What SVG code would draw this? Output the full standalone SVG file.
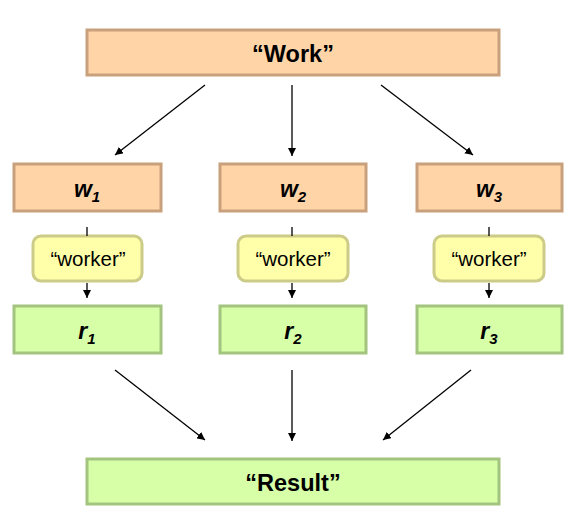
<svg xmlns="http://www.w3.org/2000/svg" width="570" height="528" viewBox="0 0 570 528">
<defs>
<marker id="ah" viewBox="0 0 10 10" refX="10" refY="5" markerWidth="8" markerHeight="8" markerUnits="userSpaceOnUse" orient="auto"><path d="M0,0 L10,5 L0,10 z" fill="#000"/></marker>
<style>
.o{fill:#FFD5A8;stroke:#C9A07C;stroke-width:3}
.y{fill:#FFFFAA;stroke:#CCCC88;stroke-width:3}
.g{fill:#D6FFA8;stroke:#A3C47E;stroke-width:3}
.big{font-family:"Liberation Sans",Arial,sans-serif;font-weight:bold;font-size:23.5px;text-anchor:middle}
.lbl{font-family:"Liberation Sans",Arial,sans-serif;font-weight:bold;font-style:italic;font-size:23px;text-anchor:middle}
.wk{font-family:"Liberation Sans",Arial,sans-serif;font-size:20.5px;text-anchor:middle}
.c{stroke:#000;stroke-width:1.3;fill:none}
</style>
</defs>
<rect width="570" height="528" fill="#fff"/>
<g id="work"><rect class="o" x="87" y="30" width="412" height="45"/><text class="big" x="293" y="62">“Work”</text></g>
<g id="w1"><rect class="o" x="14" y="164" width="147" height="47"/><text class="lbl" x="87" y="197">w<tspan font-size="15" dy="5">1</tspan></text></g>
<g id="w2"><rect class="o" x="220" y="164" width="146" height="47"/><text class="lbl" x="293" y="197">w<tspan font-size="15" dy="5">2</tspan></text></g>
<g id="w3"><rect class="o" x="417" y="164" width="145" height="47"/><text class="lbl" x="489" y="197">w<tspan font-size="15" dy="5">3</tspan></text></g>
<g id="worker1"><rect class="y" x="33" y="236" width="109" height="45" rx="8"/><text class="wk" x="88" y="266">“worker”</text></g>
<g id="worker2"><rect class="y" x="238" y="236" width="110" height="45" rx="8"/><text class="wk" x="293" y="266">“worker”</text></g>
<g id="worker3"><rect class="y" x="434" y="236" width="110" height="45" rx="8"/><text class="wk" x="489" y="266">“worker”</text></g>
<g id="r1"><rect class="g" x="14" y="306" width="147" height="47"/><text class="lbl" x="87" y="339">r<tspan font-size="15" dy="5">1</tspan></text></g>
<g id="r2"><rect class="g" x="220" y="306" width="146" height="47"/><text class="lbl" x="293" y="339">r<tspan font-size="15" dy="5">2</tspan></text></g>
<g id="r3"><rect class="g" x="417" y="306" width="145" height="47"/><text class="lbl" x="489" y="339">r<tspan font-size="15" dy="5">3</tspan></text></g>
<g id="result"><rect class="g" x="87" y="459" width="412" height="45"/><text class="big" x="293" y="491">“Result”</text></g>
<g id="connectors">
<line class="c" x1="205" y1="85" x2="115" y2="155" marker-end="url(#ah)"/>
<line class="c" x1="292" y1="85" x2="292" y2="156" marker-end="url(#ah)"/>
<line class="c" x1="381" y1="85" x2="473" y2="155" marker-end="url(#ah)"/>
<line class="c" x1="87" y1="227" x2="87" y2="236"/>
<line class="c" x1="292" y1="227" x2="292" y2="236"/>
<line class="c" x1="489" y1="227" x2="489" y2="236"/>
<line class="c" x1="87" y1="283" x2="87" y2="298" marker-end="url(#ah)"/>
<line class="c" x1="292" y1="283" x2="292" y2="298" marker-end="url(#ah)"/>
<line class="c" x1="489" y1="283" x2="489" y2="298" marker-end="url(#ah)"/>
<line class="c" x1="115" y1="370" x2="205" y2="440" marker-end="url(#ah)"/>
<line class="c" x1="292" y1="370" x2="292" y2="441" marker-end="url(#ah)"/>
<line class="c" x1="471" y1="370" x2="383" y2="440" marker-end="url(#ah)"/>
</g>
</svg>
